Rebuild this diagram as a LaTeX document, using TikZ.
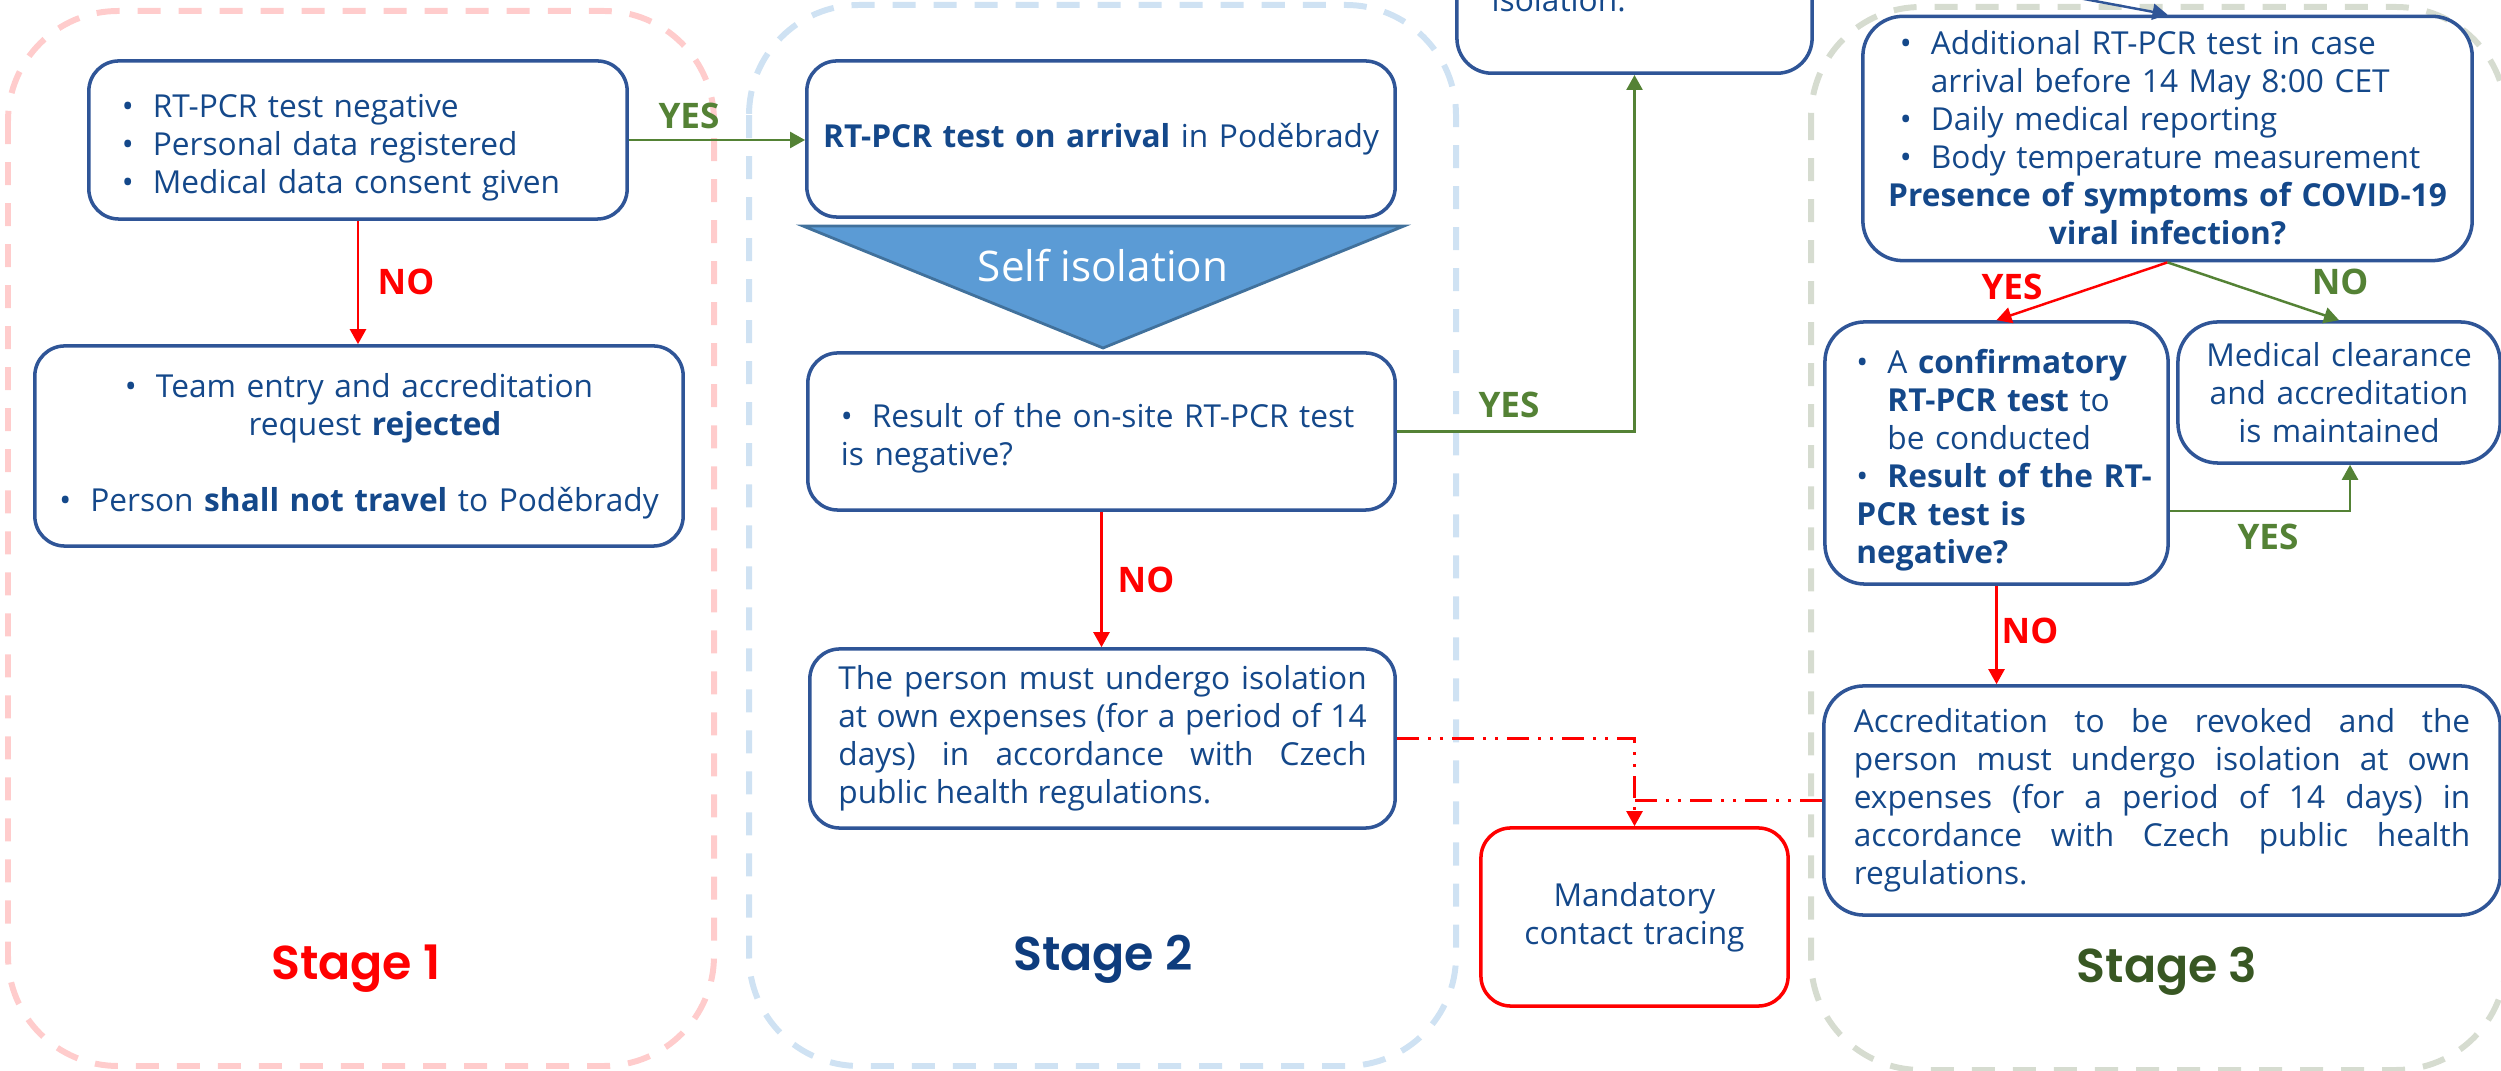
\documentclass[tikz,border=0pt]{standalone}
\usepackage{fontspec}
\IfFontExistsTF{Open Sans SemiBold}
  {\setmainfont{Open Sans}[BoldFont = {Open Sans SemiBold}]}
  {\setmainfont{Open Sans}}
\IfFontExistsTF{Poppins SemiBold}
  {\newfontfamily\stagefont{Poppins}[BoldFont = {Poppins SemiBold}]}
  {\newfontfamily\stagefont{Poppins}}
\usetikzlibrary{arrows.meta}
\definecolor{boxblue}{RGB}{47,85,151}
\definecolor{txtblue}{RGB}{20,72,138}
\definecolor{okgreen}{RGB}{84,130,53}
\definecolor{stgreen}{RGB}{56,87,35}
\definecolor{stblue}{RGB}{14,60,125}
\definecolor{pinkdash}{RGB}{255,204,204}
\definecolor{bluedash}{RGB}{207,226,243}
\definecolor{greydash}{RGB}{214,220,208}
\definecolor{isofill}{RGB}{91,155,213}
\definecolor{isoedge}{RGB}{65,113,156}
\hyphenpenalty=10000
\exhyphenpenalty=10000
\tikzset{box/.style = {draw = boxblue, line width = 1pt, rounded corners = 0.3cm, inner sep = 0, text = txtblue, font = \fontsize{9}{10.8}\selectfont}}
\tikzset{arr/.style = {line width = 0.7pt, -{Triangle[length = 0.15cm, width = 0.16cm]}}}
\tikzset{lbl/.style = {inner sep = 0, font = \fontsize{10}{12}\selectfont\bfseries}}
\tikzset{stagebox/.style = {line width = 1.7pt, dash pattern = on 0.23cm off 0.18cm, rounded corners = 1.1cm}}
\tikzset{stagename/.style = {anchor = base, inner sep = 0, font = \fontsize{13.5}{16}\stagefont\bfseries}}
\tikzset{tracing/.style = {line width = 0.7pt, red, dash pattern = on 0.22cm off 0.09cm on 0.03cm off 0.09cm on 0.03cm off 0.09cm}}
\newcommand{\bul}{\leavevmode\hbox to 0.31cm{\textbullet\hfil}}
\newcommand{\bitem}[1]{\par\hangindent = 0.31cm\hangafter = 1\noindent\bul #1}

\begin{document}
\begin{tikzpicture}[x = 0.01cm, y = -0.01cm]
    \path [use as bounding box, clip] (0, 0) rectangle (2501, 1071);

    % stages
    \draw [stagebox, pinkdash] (8, 11) rectangle (714, 1066);
    \draw [stagebox, bluedash] (749, 5) rectangle (1456, 1066);
    \draw [stagebox, greydash] (1811, 7) rectangle (2506, 1070);

    \node [stagename, red] (stage1) at (356, 979) {Stage 1};
    \node [stagename, stblue] (stage2) at (1103, 971) {Stage 2};
    \node [stagename, stgreen] (stage3) at (2167, 982) {Stage 3};

    % stage 1
    \node [box, minimum width = 5.38cm, minimum height = 1.58cm, text width = 4.72cm, align = left] (negative) at (358, 140)
      {\bitem{RT-PCR test negative}\bitem{Personal data registered}\bitem{Medical data consent given}};
    \node [box, minimum width = 6.48cm, minimum height = 2cm, text width = 6cm, align = center] (rejected) at (359, 446)
      {\bul Team entry and accreditation\\ \hspace*{0.32cm}request \textbf{rejected}\\[10.8pt]
       \bul Person \textbf{shall not travel} to Poděbrady};

    % stage 2
    \node [box, minimum width = 5.88cm, minimum height = 1.56cm, text width = 5.6cm, align = center] (arrival) at (1101, 139)
      {\textbf{RT-PCR test on arrival} in Poděbrady};

    \draw [fill = isofill, draw = isoedge, line width = 0.8pt] (803, 226) -- (1404, 226) -- (1103, 348) -- cycle;
    \node [anchor = base, inner sep = 0, text = white, font = \fontsize{12}{14}\selectfont] (selfiso) at (1103, 282) {Self isolation};

    \node [box, minimum width = 5.87cm, minimum height = 1.57cm, text width = 5.21cm, align = left] (onsite) at (1101.5, 431.5)
      {\bitem{Result of the on-site RT-PCR test\newline is negative?}};
    \node [box, minimum width = 5.85cm, minimum height = 1.79cm, text width = 5.28cm, align = justify] (persiso) at (1102.5, 738.5)
      {The person must undergo isolation\linebreak at own expenses (for a period of 14\linebreak days) in accordance with Czech\linebreak public health regulations.};

    \node [box, rounded corners = 0.35cm, minimum width = 3.55cm, minimum height = 3cm, anchor = south] (isol) at (1634.5, 75) {};
    \node [anchor = base west, inner sep = 0, text = txtblue, font = \fontsize{9}{10.8}\selectfont] (isoltext) at (1491, 12) {isolation.};

    \node [box, draw = red, minimum width = 3.07cm, minimum height = 1.78cm, text width = 2.8cm, align = center] (trace) at (1634.5, 917)
      {Mandatory\\contact tracing};

    % stage 3
    \node [box, rounded corners = 0.4cm, minimum width = 6.09cm, minimum height = 2.37cm, text width = 5.35cm, align = left] (symptoms) at (2167.5, 138.5)
      {\bitem{Additional RT-PCR test in case\newline arrival before 14 May 8:00 CET}\bitem{Daily medical reporting}\bitem{Body temperature measurement}
       \par\noindent\makebox[\linewidth]{\bfseries Presence of symptoms of COVID-19}
       \par\noindent\makebox[\linewidth]{\bfseries viral infection?}
       \par\vspace*{0.16cm}};
    \node [box, rounded corners = 0.4cm, minimum width = 3.43cm, minimum height = 2.62cm, text width = 2.8cm, align = left] (confirm) at (1996.5, 453)
      {\bitem{A \textbf{confirmatory}\newline \textbf{RT-PCR test} to\newline be conducted}\bitem{\mbox{\textbf{Result of the RT-}}\newline \textbf{PCR test is}\newline \textbf{negative?}}};
    \node [box, rounded corners = 0.4cm, minimum width = 3.22cm, minimum height = 1.41cm, text width = 3cm, align = center] (clearance) at (2339, 392.5)
      {Medical clearance\\and accreditation\\is maintained};
    \node [box, rounded corners = 0.4cm, minimum width = 6.76cm, minimum height = 2.29cm, text width = 6.16cm, align = justify] (revoke) at (2162, 800.5)
      {Accreditation to be revoked and the\linebreak person must undergo isolation at own\linebreak expenses (for a period of 14 days) in\linebreak accordance with Czech public health\linebreak regulations.};

    \coordinate (fromtop) at (1950, -26);

    % connectors
    \draw [arr, red] (negative.south) -- (negative.south |- rejected.north);
    \draw [arr, okgreen] (negative.east) -- (negative.east -| arrival.west);
    \draw [arr, okgreen] (onsite.east) -| (isol.south);
    \draw [arr, red] (onsite.south) -- (onsite.south |- persiso.north);
    \draw [tracing, arr] (persiso.east) -| (trace.north);
    \draw [tracing] (revoke.west) -- (revoke.west -| trace.north);
    \draw [arr, boxblue] (fromtop) -- (symptoms.north);
    \draw [arr, red] (symptoms.south) -- (confirm.north);
    \draw [arr, okgreen] (symptoms.south) -- (clearance.north);
    \draw [arr, okgreen] ([yshift = -0.58cm] confirm.east) -| ([xshift = 0.11cm] clearance.south);
    \draw [arr, red] (confirm.south) -- (confirm.south |- revoke.north);

    \node [lbl, red] (no1) at (406, 282) {NO};
    \node [lbl, okgreen] (yes1) at (689, 116) {YES};
    \node [lbl, okgreen] (yes2) at (1509, 405) {YES};
    \node [lbl, red] (no2) at (1146, 580) {NO};
    \node [lbl, red] (yes3) at (2012, 287) {YES};
    \node [lbl, okgreen] (no3) at (2340, 282) {NO};
    \node [lbl, okgreen] (yes4) at (2268, 537) {YES};
    \node [lbl, red] (no4) at (2030, 631) {NO};
  \end{tikzpicture}
\end{document}
